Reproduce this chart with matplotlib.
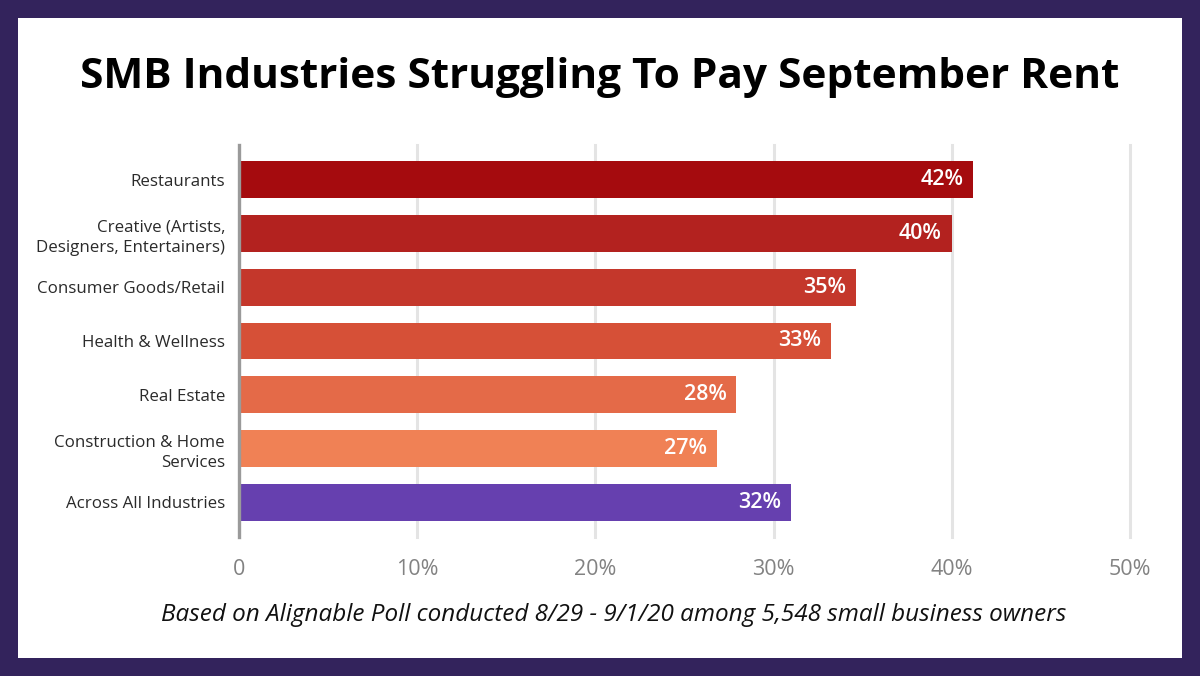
import matplotlib
matplotlib.use("Agg")
import matplotlib.pyplot as plt
from matplotlib.patches import Rectangle

# ---- data ----
categories = [
    "Restaurants",
    "Creative (Artists,\nDesigners, Entertainers)",
    "Consumer Goods/Retail",
    "Health & Wellness",
    "Real Estate",
    "Construction & Home\nServices",
    "Across All Industries",
]
values = [41.2, 40.0, 34.6, 33.2, 27.9, 26.8, 31.0]          # bar lengths (%)
value_labels = ["42%", "40%", "35%", "33%", "28%", "27%", "32%"]
x_ticks = [0, 10, 20, 30, 40, 50]
x_tick_labels = ["0", "10%", "20%", "30%", "40%", "50%"]
bar_colors = ["#A50B0E", "#B3221F", "#C4372B", "#D65037", "#E46A48", "#F08155", "#6640AF"]

title = "SMB Industries Struggling To Pay September Rent"
footnote = "Based on Alignable Poll conducted 8/29 - 9/1/20 among 5,548 small business owners"

plt.rcParams["font.family"] = ["Open Sans", "DejaVu Sans"]

W, H = 1200, 676
fig = plt.figure(figsize=(W / 100, H / 100), dpi=100)
fig.patch.set_facecolor("#33235C")
# white inner panel
b = 18
fig.patches.append(Rectangle((b / W, b / H), 1 - 2 * b / W, 1 - 2 * b / H,
                             transform=fig.transFigure, facecolor="white",
                             edgecolor="none", zorder=-10))

left, right, top, bottom = 239, 1130, 145, 537
ax = fig.add_axes([left / W, 1 - bottom / H, (right - left) / W, (bottom - top) / H])
ax.set_facecolor("none")
ax.set_zorder(2)

y = list(range(len(categories)))
ax.barh(y, values, height=0.68, color=bar_colors, zorder=3)
for yi, v, lab in zip(y, values, value_labels):
    ax.text(v - 0.55, yi, lab, ha="right", va="center", color="white",
            fontsize=15.5, fontweight="semibold", zorder=4)

ax.set_xlim(0, 50)
ax.set_ylim(len(categories) - 1 + 0.645, -0.645)
ax.set_xticks(x_ticks)
ax.set_xticklabels(x_tick_labels, fontsize=15.5, color="#828282")
ax.set_yticks(y)
ax.set_yticklabels(categories, fontsize=12.2, color="#2a2a2a", linespacing=1.4)
ax.tick_params(axis="x", length=0, pad=16)
ax.tick_params(axis="y", length=0, pad=10)

ax.grid(axis="x", color="#e4e4e4", linewidth=2.2, zorder=0)
ax.grid(axis="y", visible=False)
for gl in ax.get_xgridlines():
    gl.set_clip_on(False)
for s in ["top", "right", "bottom"]:
    ax.spines[s].set_visible(False)
ax.spines["left"].set_color("#9a9a9a")
ax.spines["left"].set_linewidth(2.4)
ax.spines["left"].set_zorder(5)

fig.text(0.5, 1 - 78 / H, title, ha="center", va="center",
         fontsize=30.5, fontweight="bold", color="#000000")
fig.text(614 / W, 1 - 615 / H, footnote, ha="center", va="center",
         fontsize=17.5, style="italic", color="#111111")

fig.savefig("out.png", dpi=100, facecolor=fig.get_facecolor())
